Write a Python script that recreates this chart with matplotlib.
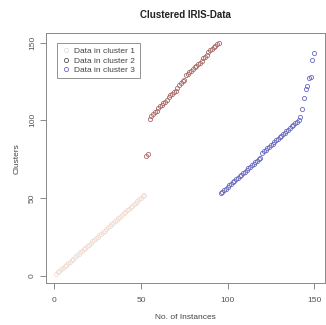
import matplotlib
matplotlib.use("Agg")
import matplotlib.pyplot as plt
from matplotlib.lines import Line2D
import numpy as np

plt.rcParams['font.family'] = ['Liberation Sans', 'DejaVu Sans']

# Data: instance order (x) vs. instance id (y), grouped by cluster
cluster1_y = list(range(1, 53))
cluster3_tail = [102, 107, 114, 120, 122, 127, 128, 139, 143]
cluster2_y = [77, 78] + [v for v in range(101, 151) if v not in cluster3_tail]
cluster3_y = [v for v in range(53, 101) if v not in (77, 78)] + cluster3_tail

labels = ["Data in cluster 1", "Data in cluster 2", "Data in cluster 3"]
colors = ["#F0DDD3", "#A86A66", "#6868C0"]
legend_colors = ["#E4DEDE", "#555555", "#6A6AC0"]

x1 = np.arange(1, len(cluster1_y) + 1)
x2 = np.arange(x1[-1] + 1, x1[-1] + 1 + len(cluster2_y))
x3 = np.arange(x2[-1] + 1, x2[-1] + 1 + len(cluster3_y))

fig = plt.figure(figsize=(3.26, 3.25), dpi=100)
ax = fig.add_axes([45.7 / 326, (325 - 283.3) / 325, (324.5 - 45.7) / 326, (283.3 - 33.3) / 325])

for xs, ys, c in zip([x1, x2, x3], [cluster1_y, cluster2_y, cluster3_y], colors):
    ax.plot(xs, ys, linestyle='none', marker='o', markersize=3.0,
            markerfacecolor='none', markeredgecolor=c, markeredgewidth=0.6)

ax.set_xlim(-4.96, 155.96)
ax.set_ylim(-4.96, 155.96)
ax.set_xticks([0, 50, 100, 150])
ax.set_yticks([0, 50, 100, 150])
ax.set_yticklabels(['0', '50', '100', '150'], rotation=90, va='center')
ax.tick_params(direction='out', length=4, width=0.6, colors='#777777',
               labelsize=6, labelcolor='#555555')
ax.tick_params(axis='x', pad=6)
ax.tick_params(axis='y', pad=3)
for s in ax.spines.values():
    s.set_color('#888888')
    s.set_linewidth(0.7)

ax.set_xlabel("No. of Instances", fontsize=6, color='#444444', labelpad=7)
ax.set_ylabel("Clusters", fontsize=6, color='#444444', labelpad=6)
fig.text(185 / 326, 1 - 15 / 325, "Clustered IRIS-Data", ha='center', va='center',
         fontsize=7, fontweight='bold', color='#222222')

handles = [Line2D([], [], linestyle='none', marker='o', markersize=3.0,
                  markerfacecolor='none', markeredgecolor=c, markeredgewidth=0.6)
           for c in legend_colors]
leg = ax.legend(handles, labels, loc='upper left', bbox_to_anchor=(0.04, 0.96),
                fontsize=6, frameon=True, fancybox=False, borderpad=0.5,
                labelspacing=0.2, handletextpad=0.4, handlelength=1.2,
                labelcolor='#444444', borderaxespad=0)
leg.get_frame().set_edgecolor('#777777')
leg.get_frame().set_linewidth(0.7)

fig.savefig("out.png", dpi=100)
